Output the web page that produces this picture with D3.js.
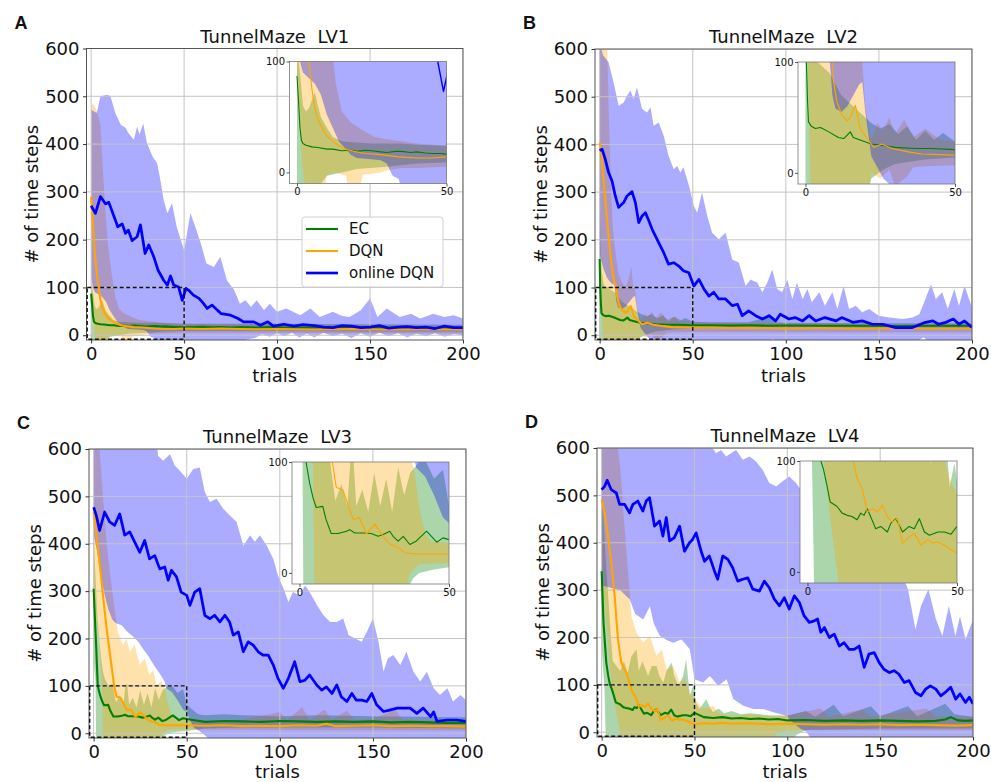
<!DOCTYPE html>
<html>
<head>
<meta charset="utf-8">
<script src="https://cdn.jsdelivr.net/npm/d3@7"></script>
<style>
  body { margin: 0; background: #fff; }
  svg { display: block; font-family: "DejaVu Sans", sans-serif; }
</style>
</head>
<body>
<svg id="chart" width="991" height="782"></svg>
<script>
// ---- data: [trial, steps] ----
// LV1
const lv1EC = [[0,87],[0.5,65],[1,40],[1.5,29],[2,26],[3,24.5],[5,23],[7,22.5],[10,21],[12,21],[15,19.5],[18,20],[20,19],[23,20],[25,19.5],[28,18.5],[30,18],[33,19],[35,19],[38,18],[40,18.5],[43,17.5],[45,17],[48,17],[50,16.5],[55,17],[60,17.5],[65,16.5],[70,17],[75,16],[80,17],[85,16.5],[90,16],[95,17],[100,16.5],[110,15.5],[120,16],[130,15],[140,16],[150,15.5],[160,15],[170,16],[180,15],[190,15.5],[200,15]];
const lv1ECHi = [[0,110],[1,90],[2,60],[3,55],[4,58],[5,65],[6,72],[7,60],[8,50],[9,45],[10,40],[12,32],[15,28],[20,27],[25,26],[30,26],[35,26],[40,25],[50,24],[80,24],[100,24],[150,23],[200,22]];
const lv1ECLo = [[0,-30],[2,-30],[3,-15],[5,-12],[8,-10],[10,-3],[15,0],[20,3],[30,5],[40,8],[50,9],[100,9],[150,8],[200,8]];
const lv1DQN = [[0,290],[0.5,260],[1,230],[1.5,200],[2,170],[3,130],[4,100],[5,75],[6,57],[7,48],[8,42],[9,37],[10,33],[12,28],[14,24],[16,21],[19,19],[23,17],[28,16],[34,14],[40,13],[45,13],[50,14],[60,13],[70,14],[80,13],[90,12.5],[100,13],[120,12],[140,13],[160,12],[180,12.5],[200,12]];
const lv1DQNHi = [[0,480],[1,485],[3,470],[5,440],[7,300],[9,190],[11,130],[13,80],[15,55],[18,45],[22,38],[26,32],[30,30],[35,28],[40,26],[50,24],[60,23],[100,22],[150,22],[200,20]];
const lv1DQNLo = [[0,100],[1,40],[2,0],[3,-20],[5,-30],[9,-20],[10,-2],[13,0],[16.5,-3],[17,-15],[21,-15],[22,-2],[28,0],[30,2],[35,4],[40,4],[50,5],[100,5],[150,4],[200,4]];
const lv1Online = [[0,271],[2.3,255],[5,290],[7.7,275],[9.5,278],[13,241],[14.3,227],[16.7,233],[18.5,213],[20,220],[22,198],[24.7,206],[26.5,231],[29,171],[31,189],[33.7,164],[36,136],[39,115],[41,105],[42.7,124],[44.4,105],[47,101],[49,73],[51,98],[52.5,94],[55,84],[58,77],[60.5,66],[62.4,56],[65,63],[68,52],[70,45],[75,42],[79,35],[82,28],[87.5,28],[91,21],[95,28],[98,19],[103.6,23],[109,19],[114,22],[120,20],[125,17],[130,16],[135,20],[140,19],[145,16],[150,17],[155,20],[160,15],[165,17],[170,18],[175,16],[180,17],[185,14],[190,19],[195,16],[200,16]];
const lv1OnlineHi = [[0,472],[3,465],[5,500],[8.6,503],[10.4,500],[13,465],[16,440],[18.5,434],[20,423],[23,409],[24.7,437],[26,420],[28,443],[30,402],[33,374],[35.5,360],[37,330],[39,283],[41,255],[43.5,276],[46,227],[50,178],[53.4,255],[56,227],[59,192],[62,150],[66,143],[69.5,164],[73,115],[77,94],[80,66],[83,73],[86,59],[89,73],[93,52],[96,66],[100,49],[105,56],[112.5,42],[118,56],[123,38],[130,49],[135,40],[139,38],[145,52],[150,77],[154,38],[159,56],[166,38],[172,45],[177,35],[184,45],[190,38],[195,42],[200,35]];
const lv1OnlineLo = [[0,120],[1,100],[2,90],[4,85],[6,80],[8,70],[10,52],[12,40],[14,28],[16,22],[18,16],[20,13],[24,12],[28,11],[30,8],[32,-3],[34,-6],[35,-15],[60,-15],[80,-12],[88,-6],[92,2],[96,-3],[100,4],[104,-2],[108,5],[112,-5],[116,3],[120,-4],[125,5],[130,-2],[135,3],[140,-6],[145,4],[150,-3],[155,5],[160,-2],[165,4],[170,-4],[175,3],[180,-2],[185,4],[190,-3],[195,2],[200,0]];

// LV2
const lv2EC = [[0,160],[0.3,100],[0.7,64],[1,46],[2,42],[3.3,40],[5,41],[7.8,37],[11,32],[12.8,31],[15,37],[16,32],[19,29],[22,26],[25.5,25],[30,23],[36.7,22],[42,22],[50,21],[60,21],[70,20.5],[80,21],[90,20],[100,20.5],[120,20],[140,20],[160,19.5],[180,20],[200,20]];
const lv2ECHi = [[0,300],[0.5,200],[1,140],[2,110],[3,100],[4,100],[6,95],[8,90],[10,80],[12,70],[14,65],[16,60],[18,55],[20,50],[22,45],[25,40],[28,44],[31,35],[34,42],[37,30],[40,38],[43,30],[46,36],[50,28],[60,27],[80,27],[92,40],[95,27],[100,26],[150,25],[200,25]];
const lv2ECLo = [[0,-30],[20,-30],[22,-5],[26,3],[30,8],[40,12],[50,14],[100,14],[150,13],[200,13]];
const lv2DQN = [[0,404],[1,380],[2,330],[3,285],[4,240],[5,200],[6,160],[7,130],[8,110],[9,100],[9.4,82],[10.5,64],[12.2,52],[13.9,47],[15,50],[16.7,61],[18.3,40],[20.6,31],[22.8,23],[25.5,26],[28.9,22],[34.4,19],[38.9,17],[50,16],[60,16],[70,15],[80,15.5],[90,15],[100,14.5],[120,15],[140,14],[160,14.5],[180,14],[200,14]];
const lv2DQNHi = [[0,620],[4,610],[5,450],[6,320],[7,230],[8,190],[10,130],[12,110],[14,100],[16,125],[17,145],[18,100],[19,100],[20,60],[22,30],[24,45],[26,38],[28,50],[30,35],[33,48],[36,32],[40,40],[45,30],[50,28],[60,26],[100,25],[150,24],[200,22]];
const lv2DQNLo = [[0,250],[0.8,100],[1.7,-10],[2,-30],[20,-30],[22,0],[25,-5],[28,3],[30,-12],[34,-3],[36,5],[40,6],[50,7],[100,6],[150,6],[200,6]];
const lv2Online = [[0,387],[1.3,390],[3,369],[4.8,341],[6.6,324],[8.4,292],[10.2,268],[12.9,278],[14.7,292],[17.4,301],[19.2,278],[21,236],[22.8,250],[24.6,257],[26.4,240],[28.2,222],[31.7,194],[34.4,173],[37,149],[39.8,152],[42.5,145],[45,135],[47.9,131],[50.6,103],[53.3,117],[56,97],[58.7,82],[61.3,90],[64,76],[67.6,76],[71.2,62],[74,65],[76.6,41],[80,51],[83.8,41],[87.4,34],[91,41],[94.5,30],[97,44],[101.7,34],[105,37],[109,30],[112.5,41],[116,30],[121,37],[127,30],[130,37],[136,27],[141,30],[146.5,23],[152,23],[159,16],[168,16],[175,27],[179,30],[182,23],[186,27],[190,34],[193,23],[196,30],[200,16]];
const lv2OnlineHi = [[0,620],[0.9,600],[2,586],[4.8,572],[7.5,530],[10.2,481],[12.9,488],[14.7,502],[16.5,513],[18.3,495],[20,520],[22.8,474],[25.5,467],[27.3,478],[29,439],[31.7,446],[34.4,418],[37,376],[39.8,348],[41.6,355],[43.4,341],[45,352],[48,313],[50.6,271],[52.4,257],[55,299],[57.8,250],[60.4,215],[64,201],[67.6,215],[71.2,159],[74.8,152],[78.4,103],[81,117],[84.7,110],[87.4,90],[90,110],[92.7,138],[95.4,97],[98,90],[100.8,117],[103.5,76],[106,110],[109,76],[111.6,97],[114,69],[118,90],[121,62],[125,90],[127.7,55],[131,103],[134,55],[137.6,62],[141,48],[144.7,55],[150,41],[155.5,37],[162.7,34],[168,37],[171.7,44],[175,76],[178,107],[180.6,76],[184,90],[187,55],[190.5,97],[193,62],[196,103],[200,58]];
const lv2OnlineLo = [[0,170],[2,140],[4,120],[6,110],[8,105],[9,70],[10,58],[12,55],[14,60],[16,70],[18,80],[19,82],[20,55],[21,35],[22,15],[24,5],[26,-5],[28,-10],[30,-15],[90,-15],[93,-8],[96,-15],[170,-15],[174,-4],[177,-15],[200,-15]];

// LV3
const lv3EC = [[0,305],[0.7,240],[1.4,179],[2.2,100],[3.4,81],[4.5,68],[5.6,59],[7.8,60],[8.9,48],[10.6,35.5],[12.9,35.5],[15.7,37.6],[16.8,39],[18.5,36],[21.3,36],[24,35.5],[26.3,33],[28,34.6],[30.2,37.6],[31.3,33],[33,28.6],[34.7,33],[36.9,25.6],[39,28.6],[42.5,37.6],[45.9,27.7],[48,31.6],[50,30],[55,27],[60,24],[70,26],[80,25],[90,24],[100,26],[110,25],[120,24],[130,25],[140,24],[150,25],[160,23],[170,24],[180,23],[190,22],[200,22]];
const lv3ECHi = [[0,420],[1,330],[2,250],[3,200],[4,160],[5,130],[6,115],[8,100],[10,105],[12,65],[14,80],[16,60],[17,100],[18,105],[19,60],[21,75],[23,55],[25,90],[27,60],[29,85],[31,55],[33,95],[35,70],[37,90],[40,100],[42,102],[45,85],[48,93],[50,60],[53,50],[56,40],[60,38],[70,40],[80,38],[100,36],[120,38],[150,36],[200,34]];
const lv3ECLo = [[0,150],[1,110],[1.3,-20],[35,-20],[38,-5],[40,0],[45,3],[50,5],[60,10],[80,12],[100,12],[150,12],[200,10]];
const lv3DQN = [[0,467],[1,435],[2,400],[3,365],[4,330],[5,291],[6,255],[7,220],[8,190],[9,160],[10,130],[11,100],[12.3,77],[14.5,75],[16.8,57],[18,48],[20,50],[22.4,35],[25.2,44],[28,33],[30.2,26],[33,23],[35.2,18],[39,17],[45,17],[50,17],[60,16],[70,17],[80,15],[90,16],[100,15],[110,17],[120,16],[125,20],[130,15],[140,16],[150,17],[160,15],[170,16],[180,15],[190,15],[200,14]];
const lv3DQNHi = [[0,620],[3,610],[5,500],[7,400],[9,330],[11,270],[13,214],[15.8,186],[17.6,200],[19.4,172],[22,186],[24.7,144],[27.4,158],[30,123],[32,133],[33.7,102],[36.4,109],[38.2,95],[40,60],[42,35],[44,28],[50,27],[60,26],[80,28],[100,45],[104,28],[112,55],[116,28],[124,50],[128,28],[136,48],[140,28],[150,30],[162,50],[166,28],[200,26]];
const lv3DQNLo = [[0,300],[3,200],[4.5,100],[5,-10],[6,-20],[35,-20],[37,0],[40,8],[50,9],[60,8],[100,7],[200,6]];
const lv3Online = [[0,477],[1.4,460],[3.2,428],[5.9,467],[8.6,446],[11.3,439],[14,463],[16.7,418],[19.4,425],[22,404],[24.8,382],[27.4,407],[30,368],[32.8,375],[35.5,347],[38.2,351],[40,323],[41.8,344],[44.5,330],[47,298],[50,291],[51.7,270],[54.3,298],[57,305],[59.7,249],[62.4,242],[65,249],[67.8,235],[70.5,249],[73,235],[75,207],[77.7,214],[80.4,172],[83,193],[85.7,186],[88.4,172],[91,165],[93.8,165],[96.5,144],[99,116],[101.9,95],[104.6,116],[108,151],[110.8,109],[113.5,112],[116,123],[119.8,102],[122.5,91],[125,98],[128,84],[130.6,102],[133,77],[136,67],[138.7,84],[141,70],[144,70],[146.7,67],[149.4,84],[152,60],[155.7,46],[159,49],[163,53],[166.5,53],[170,53],[173.6,42],[177,53],[181,35],[182.6,45],[184.4,25],[190,28],[195,28],[200,25]];
const lv3OnlineHi = [[0,620],[34,610],[34.6,586],[37.3,575],[41,589],[43.6,565],[47,551],[50,537],[53.5,558],[57,561],[59.7,509],[62.4,488],[66,495],[69.6,474],[73,460],[76.8,446],[80.4,396],[84,418],[86.6,404],[89.3,418],[93,396],[96.5,368],[99,333],[102,305],[104.6,277],[107,298],[110.8,291],[113.5,312],[116,298],[120,270],[123.4,249],[127,235],[130.6,235],[134,242],[137,207],[140.5,200],[144,193],[146.7,214],[150,242],[153,193],[155.7,130],[158,158],[161,165],[164.7,144],[168,172],[171.8,130],[175.4,109],[179,130],[182.6,95],[186,81],[190,95],[193,67],[197,81],[200,70]];
const lv3OnlineLo = [[0,420],[2,380],[4,330],[6,290],[8,260],[10,240],[12,232],[15,228],[18,215],[21,205],[24,193],[27,175],[29,165],[33,140],[36,123],[38,110],[39,95],[42,87],[45,70],[48,50],[50,45],[52,25],[54,11],[57,4],[60,-5],[63,-15],[200,-15]];

// LV4
const lv4EC = [[0,340],[1,232],[2,175],[2.5,147],[3.5,120],[4.5,100],[5.4,92],[6.5,78],[7.6,63],[9.9,59],[11.6,53],[13.3,51],[14.9,50],[16.6,47],[17.8,53],[18.9,51],[20,57],[21.1,50],[22.8,39],[24.5,41],[26.7,36],[27.9,44],[29.6,48],[31.8,36],[34,41],[35.7,39],[37.4,48],[39.1,36],[40.8,33],[43.6,36],[45.8,36],[48,34],[50,41],[55,32],[60,30],[65,32],[70,29],[75,30],[80,28],[85,29],[90,27],[95,28],[100,25],[110,26],[120,24],[130,25],[140,24],[150,25],[160,24],[170,23],[180,24],[185,27],[188,32],[192,25],[196,24],[200,25]];
const lv4ECHi = [[0,520],[1,450],[2,380],[3,320],[4,260],[5,200],[6,150],[8,140],[10,130],[12,150],[14,125],[16,160],[18.8,175],[20,130],[22,150],[25,119],[27,140],[29.6,140],[31,120],[33.2,105],[35,130],[37.7,147],[39,120],[41.2,98],[43.9,119],[45.5,154],[47.5,77],[49.2,98],[51,60],[52.8,49],[56.3,70],[58,55],[60,42],[63,50],[66,40],[70,45],[75,38],[80,40],[90,36],[100,35],[110,45],[115,33],[125,58],[130,34],[145,55],[150,34],[165,55],[170,34],[185,60],[190,38],[200,33]];
const lv4ECLo = [[0,180],[1,120],[1.5,100],[2.2,-10],[3,-30],[100,-30],[105,-5],[110,5],[150,8],[200,8]];
const lv4DQN = [[0,491],[1.6,463],[3.4,414],[5.2,358],[7,288],[8.8,196],[10.6,147],[12,135],[13.3,126],[14.5,112],[15.3,100],[16.6,84],[18.3,75],[20,54],[21.7,57],[23.4,54],[25,60],[26.7,50],[28.4,45],[30.1,48],[31.8,26],[33.5,30],[35.7,35],[38,24],[40.2,29],[41.9,26],[43.6,27],[45.8,24],[48,20],[50,17],[55,19],[60,18],[65,20],[70,18],[80,19],[90,17],[100,18],[110,17],[120,16],[130,17],[140,16],[150,17],[160,15],[170,16],[180,15],[190,14],[200,15]];
const lv4DQNHi = [[0,650],[8,620],[10,560],[12,450],[14,350],[15,300],[16,245],[18.8,210],[22.4,189],[26,203],[29.6,161],[32.3,175],[35,133],[38.5,140],[42,105],[44.8,112],[47.5,84],[50,70],[54.7,49],[60,56],[63.7,38],[70.9,35],[80,38],[90,34],[100,36],[118,50],[122,33],[140,48],[145,33],[175,50],[180,33],[200,32]];
const lv4DQNLo = [[0,330],[2,260],[4,160],[5.4,100],[8,40],[10.4,-10],[12,-20],[90,-20],[95,0],[100,3],[110,5],[150,5],[200,5]];
const lv4Online = [[0,512],[1.6,519],[3,532],[5.2,512],[7.9,505],[9.7,481],[12.4,481],[15,463],[16.8,481],[19.5,488],[22.2,467],[24,488],[25.8,495],[28.5,435],[31.2,446],[33,414],[34.8,453],[36.6,404],[39.2,411],[42,435],[44.6,382],[47.3,400],[49,407],[50.9,421],[53.6,382],[55.4,361],[58,372],[60.8,340],[62.5,323],[65.2,372],[68,365],[70.6,347],[73.3,319],[76,323],[78.7,326],[81.4,302],[85,298],[87.6,319],[90.3,305],[93,281],[95.7,267],[98.4,284],[101,260],[103.8,288],[106.5,274],[109,246],[111.8,232],[114.5,235],[116.3,239],[118,211],[120,221],[122.6,200],[125.3,207],[128,182],[130.6,189],[133.3,175],[136,175],[138.7,182],[141.4,137],[144,165],[146.8,168],[149.5,147],[152,133],[155,126],[157.5,130],[160,123],[163,105],[165.6,109],[169,84],[172,77],[174.5,91],[177,98],[180,91],[182.6,77],[185,84],[188,95],[190.7,70],[193,81],[196,63],[198,74],[200,60]];
const lv4OnlineHi = [[0,650],[58,610],[61.6,589],[64.3,596],[67,582],[72.4,596],[76,575],[79.6,582],[83,572],[86.7,554],[90.3,526],[94,519],[97.5,530],[101,540],[104.7,526],[107.3,512],[112,490],[118,470],[125,460],[132,440],[140,420],[148,400],[155,380],[160,350],[165,302],[169,217],[172,267],[176,302],[180,239],[183.5,203],[187,267],[190.5,203],[193,245],[196,196],[200,238]];
const lv4OnlineLo = [[0,310],[5,305],[10,300],[15.2,280],[18,250],[22.4,238],[26,266],[28,230],[31.4,203],[35,195],[38.5,189],[43,196],[47.5,175],[50,112],[54.7,105],[58.3,119],[62.8,98],[67.3,112],[70.9,70],[76.3,56],[81.7,49],[87,49],[92.5,42],[99.6,35],[103,20],[107,8],[110,2],[113,-15],[200,-15]];

const agents = ['EC', 'DQN', 'online DQN'];
const agentColors = ['#008000', '#ffa500', '#0000ff'];
const xTicks = [0, 50, 100, 150, 200];
const yTicks = [0, 100, 200, 300, 400, 500, 600];
const insetXTicks = [0, 50];
const insetYTicks = [0, 100];

const panels = [
  { letter: 'A', title: 'TunnelMaze  LV1', box: [86.5, 48.5, 376.5, 291.5], legend: true,
    series: [[lv1EC, lv1ECHi, lv1ECLo], [lv1DQN, lv1DQNHi, lv1DQNLo], [lv1Online, lv1OnlineHi, lv1OnlineLo]] },
  { letter: 'B', title: 'TunnelMaze  LV2', box: [595, 49, 377, 291],
    series: [[lv2EC, lv2ECHi, lv2ECLo], [lv2DQN, lv2DQNHi, lv2DQNLo], [lv2Online, lv2OnlineHi, lv2OnlineLo]] },
  { letter: 'C', title: 'TunnelMaze  LV3', box: [89, 449, 377, 289],
    series: [[lv3EC, lv3ECHi, lv3ECLo], [lv3DQN, lv3DQNHi, lv3DQNLo], [lv3Online, lv3OnlineHi, lv3OnlineLo]] },
  { letter: 'D', title: 'TunnelMaze  LV4', box: [597, 448, 376, 289],
    series: [[lv4EC, lv4ECHi, lv4ECLo], [lv4DQN, lv4DQNHi, lv4DQNLo], [lv4Online, lv4OnlineHi, lv4OnlineLo]] }
];

const svg = d3.select('#chart');

function bandPath(x, y, hi, lo) {
  const pts = hi.concat(lo.slice().reverse());
  return d3.line().x(d => x(d[0])).y(d => y(d[1]))(pts) + 'Z';
}

function drawData(g, x, y, series, lw, clipId, grid) {
  let inner = g.append('g').attr('clip-path', `url(#${clipId})`);
  series.forEach((s, i) => {
    inner.append('path')
      .attr('d', bandPath(x, y, s[1], s[2]))
      .attr('fill', agentColors[i])
      .attr('fill-opacity', 0.33)
      .attr('stroke', 'none');
  });
  if (grid) grid(inner);
  series.forEach((s, i) => {
    inner.append('path')
      .attr('d', d3.line().x(d => x(d[0])).y(d => y(d[1]))(s[0]))
      .attr('fill', 'none')
      .attr('stroke', agentColors[i])
      .attr('stroke-width', i == 2 ? lw * 1.3 : lw)
      .attr('stroke-linejoin', 'round');
  });
  return inner;
}

panels.forEach((p, k) => {
  let [left, top, w, h] = p.box;
  let g = svg.append('g');
  let x = d3.scaleLinear().domain([-2.5, 200]).range([left, left + w]);
  let y = d3.scaleLinear().domain([-10, 600]).range([top + h, top]);

  let clipId = 'clip' + k;
  svg.append('clipPath').attr('id', clipId)
     .append('rect').attr('x', left).attr('y', top).attr('width', w).attr('height', h);

  drawData(g, x, y, p.series, 2.1, clipId, sel => {
    sel.selectAll('.gx').data(xTicks).enter().append('line')
       .attr('x1', d => x(d)).attr('x2', d => x(d))
       .attr('y1', top).attr('y2', top + h)
       .attr('stroke', '#c4c4c4').attr('stroke-width', 1);
    sel.selectAll('.gy').data(yTicks).enter().append('line')
       .attr('x1', left).attr('x2', left + w)
       .attr('y1', d => y(d)).attr('y2', d => y(d))
       .attr('stroke', '#c4c4c4').attr('stroke-width', 1);
  });

  g.append('rect').attr('x', left).attr('y', top).attr('width', w).attr('height', h)
   .attr('fill', 'none').attr('stroke', '#555').attr('stroke-width', 1);

  // zoomed region marker (drawn over the frame so that no edge is clipped)
  g.append('rect')
    .attr('x', x(-2.5) + 0.7).attr('y', y(100))
    .attr('width', x(50) - x(-2.5) - 0.7).attr('height', y(-10) - y(100) - 0.7)
    .attr('fill', 'none').attr('stroke', '#111')
    .attr('stroke-width', 1.4).attr('stroke-dasharray', '4,2.5');

  let xAxis = g.append('g').attr('transform', `translate(0,${top + h})`)
    .call(d3.axisBottom(x).tickValues(xTicks).tickSize(3.5).tickPadding(3.5));
  let yAxis = g.append('g').attr('transform', `translate(${left},0)`)
    .call(d3.axisLeft(y).tickValues(yTicks).tickSize(3.5).tickPadding(3.5));
  [xAxis, yAxis].forEach(a => {
    a.select('.domain').remove();
    a.selectAll('line').attr('stroke', '#333');
    a.selectAll('text').attr('font-size', 18).attr('fill', '#111')
     .attr('font-family', '"DejaVu Sans", sans-serif');
  });

  g.append('text').attr('x', left + w / 2).attr('y', top - 6)
   .attr('text-anchor', 'middle').attr('font-size', 18).attr('fill', '#111')
   .attr('xml:space', 'preserve').style('white-space', 'pre')
   .text(p.title);
  g.append('text').attr('x', left + w / 2).attr('y', Math.min(top + h + 42, 778))
   .attr('text-anchor', 'middle').attr('font-size', 18).attr('fill', '#111')
   .text('trials');
  g.append('text')
   .attr('transform', `translate(${left - 55},${top + h / 2}) rotate(-90)`)
   .attr('text-anchor', 'middle').attr('dominant-baseline', 'central')
   .attr('font-size', 18).attr('fill', '#111')
   .text('# of time steps');
  g.append('text').attr('x', left - 72).attr('y', top - 20)
   .attr('font-family', '"Liberation Sans", Arial, sans-serif')
   .attr('font-weight', 'bold').attr('font-size', 18).attr('fill', '#111')
   .text(p.letter);

  // inset
  let il = left + 203, it = top + 13, iw = 157, ih = 122;
  let ix = d3.scaleLinear().domain([-2.5, 50]).range([il, il + iw]);
  let iy = d3.scaleLinear().domain([-10, 100]).range([it + ih, it]);
  let iclip = 'iclip' + k;
  svg.append('clipPath').attr('id', iclip)
     .append('rect').attr('x', il).attr('y', it).attr('width', iw).attr('height', ih);
  let ig = svg.append('g');
  ig.append('rect').attr('x', il).attr('y', it).attr('width', iw).attr('height', ih).attr('fill', '#fff');
  drawData(ig, ix, iy, p.series, 1.1, iclip, null);
  ig.append('rect').attr('x', il).attr('y', it).attr('width', iw).attr('height', ih)
    .attr('fill', 'none').attr('stroke', '#777').attr('stroke-width', 0.8);
  let ixa = ig.append('g').attr('transform', `translate(0,${it + ih})`)
    .call(d3.axisBottom(ix).tickValues(insetXTicks).tickSize(3).tickPadding(1.5));
  let iya = ig.append('g').attr('transform', `translate(${il},0)`)
    .call(d3.axisLeft(iy).tickValues(insetYTicks).tickSize(3).tickPadding(1.5));
  [ixa, iya].forEach(a => {
    a.select('.domain').remove();
    a.selectAll('line').attr('stroke', '#333').attr('stroke-width', 0.8);
    a.selectAll('text').attr('font-size', 10).attr('fill', '#111')
     .attr('font-family', '"DejaVu Sans", sans-serif');
  });

  if (p.legend) {
    let lg = svg.append('g').attr('transform', `translate(${left + 215.5},${top + 168.5})`);
    lg.append('rect').attr('width', 141).attr('height', 70).attr('rx', 3)
      .attr('fill', '#fff').attr('fill-opacity', 0.85)
      .attr('stroke', '#d0d0d0').attr('stroke-width', 1);
    agents.forEach((a, i) => {
      let ry = 12 + i * 22;
      lg.append('line').attr('x1', 4).attr('x2', 36).attr('y1', ry).attr('y2', ry)
        .attr('stroke', agentColors[i]).attr('stroke-width', i == 2 ? 2.7 : 2.1);
      lg.append('text').attr('x', 47).attr('y', ry).attr('dominant-baseline', 'central')
        .attr('font-size', 15).attr('fill', '#111').text(a);
    });
  }
});
</script>
</body>
</html>
